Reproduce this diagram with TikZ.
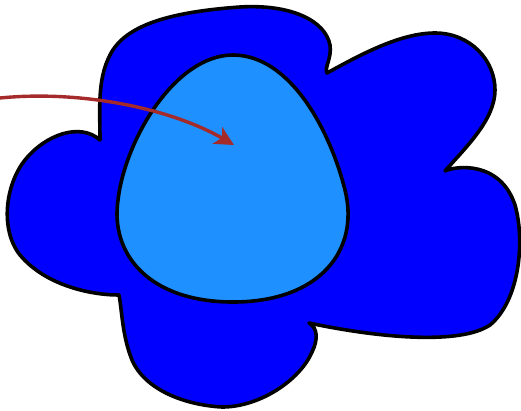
\documentclass[tikz,border=0pt]{standalone}
\usetikzlibrary{arrows.meta}
\definecolor{outerblue}{HTML}{0000FF}
\definecolor{innerblue}{HTML}{1E90FF}
\definecolor{arrowred}{HTML}{A52A2A}
\begin{document}
\begin{tikzpicture}[x=1pt,y=-1pt,
  blob/.style={draw=black,line width=3.6pt,line join=round},
  pointer/.style={draw=arrowred,line width=3.4pt,-{Stealth[length=19pt,width=19pt,inset=5pt]}}]
\useasboundingbox (0,0) rectangle (521,410);
% outer blob
\path[blob,fill=outerblue]
  (100,140) .. controls (100,110) and (97,80) .. (110,55)
  .. controls (125,25) and (170,12) .. (240,7)
  .. controls (290,4) and (325,20) .. (330,45)
  .. controls (332,58) and (324,68) .. (327,73)
  .. controls (360,55) and (400,33) .. (435,33)
  .. controls (470,33) and (495,60) .. (495,90)
  .. controls (495,120) and (465,148) .. (445,171)
  .. controls (455,166) and (500,160) .. (515,205)
  .. controls (525,240) and (520,300) .. (490,325)
  .. controls (460,345) and (380,338) .. (309,323)
  .. controls (318,328) and (318,340) .. (312,352)
  .. controls (300,380) and (260,407) .. (222,407)
  .. controls (185,405) and (145,390) .. (132,360)
  .. controls (122,335) and (122,310) .. (119,295)
  .. controls (90,295) and (45,285) .. (20,255)
  .. controls (0,230) and (5,185) .. (25,160)
  .. controls (45,135) and (80,122) .. (100,140) -- cycle;
% inner blob
\path[blob,fill=innerblue]
  (233,55) .. controls (290,55) and (330,130) .. (345,190)
  .. controls (360,250) and (320,302) .. (233,302)
  .. controls (150,302) and (110,255) .. (118,200)
  .. controls (125,140) and (175,55) .. (233,55) -- cycle;
% arrow
\coordinate (start) at (0,98);
\coordinate (target) at (234,145);
\draw[pointer] (start) .. controls (80,90) and (170,108) .. (target);
\end{tikzpicture}
\end{document}
